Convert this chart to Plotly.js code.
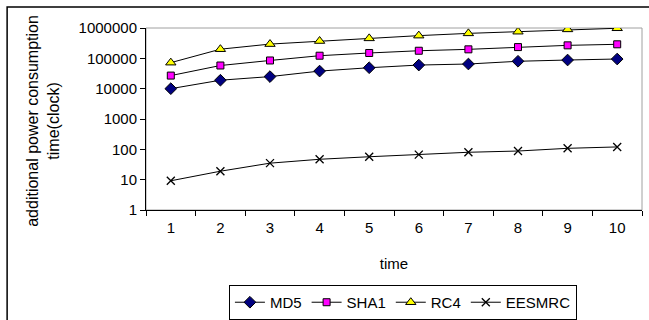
<!DOCTYPE html>
<html>
<head>
<meta charset="utf-8">
<script src="https://cdn.plot.ly/plotly-3.0.1.min.js"></script>
<style>
html,body{margin:0;padding:0;background:#fff;}
#chart{width:649px;height:320px;}
</style>
</head>
<body>
<div id="chart"></div>
<script>
const categories = ['1','2','3','4','5','6','7','8','9','10'];
const md5 = [10000, 19000, 25000, 38000, 49000, 60000, 65000, 80000, 88000, 95000];
const sha1 = [27000, 58000, 85000, 122000, 150000, 178000, 198000, 235000, 268000, 290000];
const rc4 = [72000, 200000, 295000, 372000, 455000, 560000, 665000, 755000, 900000, 980000];
const eesmrc = [9.2, 19, 35, 47, 57, 67, 80, 88, 108, 120];
const yTickVals = [1, 10, 100, 1000, 10000, 100000, 1000000];
const yTickText = ['1', '10', '100', '1000', '10000', '100000', '1000000'];
const yTitle = 'additional power consumption<br>time(clock)';
const xTitle = 'time';

const FONT = 'Liberation Sans, Arial, sans-serif';
const lineStyle = {color: '#000000', width: 1};

const traces = [
  {name: 'MD5', x: categories, y: md5, type: 'scatter', mode: 'lines+markers',
   line: lineStyle,
   marker: {symbol: 'diamond', size: 9, color: '#000080', line: {color: '#000000', width: 1}}},
  {name: 'SHA1', x: categories, y: sha1, type: 'scatter', mode: 'lines+markers',
   line: lineStyle,
   marker: {symbol: 'square', size: 7, color: '#FF00FF', line: {color: '#000000', width: 1}}},
  {name: 'RC4', x: categories, y: rc4, type: 'scatter', mode: 'lines+markers',
   line: lineStyle,
   marker: {symbol: 'triangle-up', size: 9, color: '#FFFF00', line: {color: '#000000', width: 1}}},
  {name: 'EESMRC', x: categories, y: eesmrc, type: 'scatter', mode: 'lines+markers',
   line: lineStyle,
   marker: {symbol: 'x-thin', size: 8, color: '#000000', line: {color: '#000000', width: 1.3}}}
];

const layout = {
  width: 649, height: 320,
  margin: {l: 146, r: 7, t: 28, b: 110, autoexpand: false},
  paper_bgcolor: '#ffffff', plot_bgcolor: '#ffffff',
  font: {family: FONT, size: 15, color: '#000000'},
  showlegend: true,
  legend: {
    orientation: 'h', x: 0.518, xanchor: 'center', y: -0.412, yanchor: 'top',
    bordercolor: '#000000', borderwidth: 1, bgcolor: '#ffffff',
    font: {family: FONT, size: 15, color: '#000000'},
    itemwidth: 30, tracegroupgap: 0
  },
  xaxis: {
    type: 'category', range: [-0.5, 9.5], automargin: false,
    showgrid: false, zeroline: false,
    showline: true, linecolor: '#000000', linewidth: 1,
    ticks: 'outside', tickson: 'boundaries', ticklen: 5, tickcolor: '#000000',
    ticklabelstandoff: 4,
    tickfont: {family: FONT, size: 15},
    title: {text: xTitle, font: {family: FONT, size: 15}, standoff: 23}
  },
  yaxis: {
    type: 'log', range: [0, 6], automargin: false,
    showgrid: false, zeroline: false,
    showline: true, linecolor: '#000000', linewidth: 1,
    ticks: 'outside', ticklen: 5, tickcolor: '#000000',
    tickvals: yTickVals, ticktext: yTickText,
    tickfont: {family: FONT, size: 15}
  },
  annotations: [
    {text: yTitle, xref: 'paper', yref: 'paper', x: -0.2077, y: 0.49,
     xanchor: 'center', yanchor: 'middle', textangle: -90, showarrow: false,
     font: {family: FONT, size: 16, color: '#000000'}}
  ],
  shapes: [
    {type: 'rect', xref: 'paper', yref: 'paper', x0: 0, x1: 1, y0: 0, y1: 1,
     line: {color: '#a0a0a0', width: 1}, layer: 'below'},
    {type: 'rect', xref: 'paper', yref: 'paper', x0: -0.28, x1: 1.2, y0: -1.0, y1: 1.115,
     line: {color: '#000000', width: 1.5}, layer: 'below'}
  ]
};

Plotly.newPlot('chart', traces, layout, {displayModeBar: false, staticPlot: true});
</script>
</body>
</html>
